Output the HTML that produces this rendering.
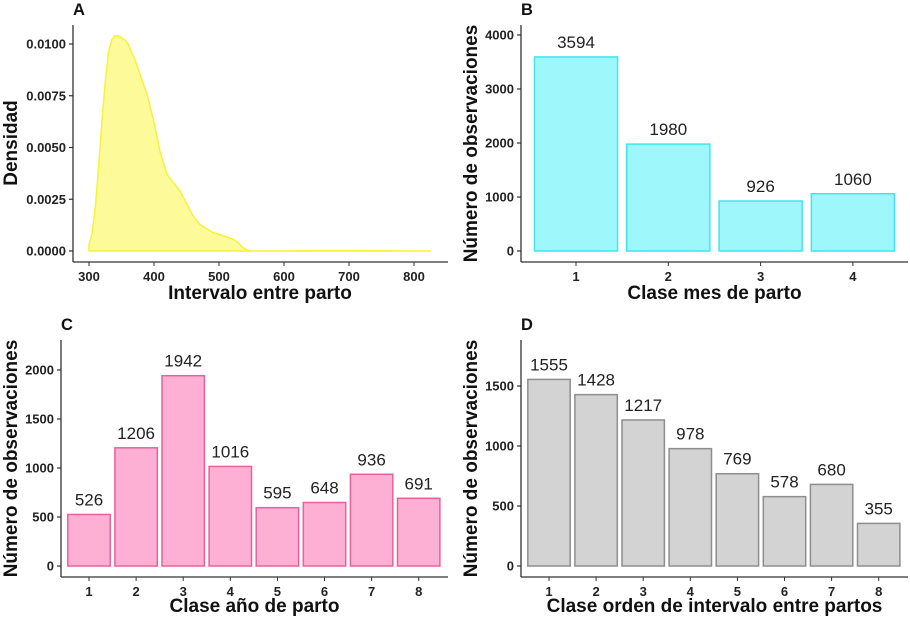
<!DOCTYPE html>
<html><head><meta charset="utf-8"><style>
html,body{margin:0;padding:0;background:#fff;}
svg{display:block;font-family:"Liberation Sans",sans-serif;}
.tick{font-size:13px;font-weight:bold;fill:#222;}
.ttl{font-size:19px;font-weight:bold;fill:#111;}
.val{font-size:17px;fill:#222;}
.pl{font-size:16.5px;font-weight:bold;fill:#111;}
</style></head><body>
<svg id="s" width="910" height="618"></svg>
<script>
const densX=[300,305,310,315,320,325,330,335,340,345,350,355,360,370,380,390,400,410,420,430,440,450,460,470,480,490,500,510,520,530,535,540,545,550,600,650,700,750,800,825];
const densY=[0.0003,0.0009,0.0022,0.0042,0.0063,0.0082,0.0096,0.0102,0.0104,0.0104,0.0103,0.0102,0.0100,0.0093,0.0084,0.0075,0.0062,0.0047,0.0037,0.0033,0.0029,0.0023,0.0017,0.0013,0.0011,0.0009,0.0008,0.0007,0.0006,0.0004,0.0002,0.0001,0.00002,0,0,0.00002,0.00002,0.00001,0,0];
const aXTicks=[300,400,500,600,700,800];
const aYTicks=[0,0.0025,0.005,0.0075,0.01];
const aYLabels=["0.0000","0.0025","0.0050","0.0075","0.0100"];
const bCats=["1","2","3","4"];
const bVals=[3594,1980,926,1060];
const bYTicks=[0,1000,2000,3000,4000];
const cCats=["1","2","3","4","5","6","7","8"];
const cVals=[526,1206,1942,1016,595,648,936,691];
const cYTicks=[0,500,1000,1500,2000];
const dCats=["1","2","3","4","5","6","7","8"];
const dVals=[1555,1428,1217,978,769,578,680,355];
const dYTicks=[0,500,1000,1500];

const NS="http://www.w3.org/2000/svg";
const svg=document.getElementById('s');
function mk(tag,attrs,parent,text){const e=document.createElementNS(NS,tag);for(const k in attrs)e.setAttribute(k,attrs[k]);if(text!==undefined)e.textContent=text;(parent||svg).appendChild(e);return e;}
function axes(g,x0,x1,y0,yb,yTicks,yLab,yfn){
  const ya=mk('line',{x1:x0,y1:y0,x2:x0,y2:yb,stroke:'#333','stroke-width':1.3},g);
  
  const xa=mk('line',{x1:x0,y1:yb,x2:x1,y2:yb,stroke:'#333','stroke-width':1.3},g);
  
  yTicks.forEach((v,i)=>{const y=yfn(v);
    mk('line',{x1:x0-4,y1:y,x2:x0,y2:y,stroke:'#333','stroke-width':1.2},g);
    const t=mk('text',{x:x0-7,y:y+4.5,'text-anchor':'end',class:'tick'},g,yLab[i]);
    });
}
function panel(letter,lx,ly){const t=mk('text',{x:lx,y:ly,class:'pl'},svg,letter);}
function ytitle(g,x,y,txt){const t=mk('text',{x:0,y:0,transform:`translate(${x},${y}) rotate(-90)`,'text-anchor':'middle',class:'ttl'},g,txt);}
function xtitle(g,x,y,txt){const t=mk('text',{x:x,y:y,'text-anchor':'middle',class:'ttl'},g,txt);}

// Panel A
{const g=mk('g',{});
 const xs=v=>89+(v-300)*0.65, ys=v=>251-v*20700;
 axes(g,73,448,25,262,aYTicks,aYLabels,ys);
 aXTicks.forEach(v=>{const x=xs(v);mk('line',{x1:x,y1:262,x2:x,y2:266,stroke:'#333'},g);
   const t=mk('text',{x:x,y:281,'text-anchor':'middle',class:'tick'},g,String(v));});
 let d='M'+xs(densX[0])+','+ys(0);
 densX.forEach((v,i)=>{d+=' L'+xs(v).toFixed(1)+','+ys(densY[i]).toFixed(1);});
 d+=' L'+xs(densX[densX.length-1])+','+ys(0)+' Z';
 const p=mk('path',{d:d,fill:'#fdfa9a',stroke:'#f7f23a','stroke-width':1.5,'stroke-linejoin':'round'},g);
 
 ytitle(g,17,143,'Densidad');xtitle(g,260,299,'Intervalo entre parto');
 panel('A',73,15);}

function bars(name,cats,vals,yTicks,x0,x1,y0,yb,c1,sp,zeroY,scale,fill,stroke,ytxt,xtxt,ytx,xty,letter,lx,ly){
 const g=mk('g',{});
 const ys=v=>zeroY-v*scale, xc=i=>c1+i*sp, w=sp*0.9;
 axes(g,x0,x1,y0,yb,yTicks,yTicks.map(String),ys);
 cats.forEach((c,i)=>{const x=xc(i);
  const r=mk('rect',{x:x-w/2,y:ys(vals[i]),width:w,height:zeroY-ys(vals[i]),fill:fill,stroke:stroke,'stroke-width':1.5},g);
  
  const t=mk('text',{x:x,y:ys(vals[i])-9,'text-anchor':'middle',class:'val'},g,String(vals[i]));
  
  mk('line',{x1:x,y1:yb,x2:x,y2:yb+4,stroke:'#333'},g);
  const tl=mk('text',{x:x,y:yb+19,'text-anchor':'middle',class:'tick'},g,c);
  });
 ytitle(g,ytx,(y0+yb)/2,ytxt);xtitle(g,(x0+x1)/2,xty,xtxt);
 panel(letter,lx,ly);
}
bars('panel-b-bars',bCats,bVals,bYTicks,521,908,25,262,576,92.3,251,0.054,'#9ef8fb','#3fe6ec','Número de observaciones','Clase mes de parto',477,299,'B',521,15);
bars('panel-c-bars',cCats,cVals,cYTicks,61,448,340,577,89,47.1,566,0.098,'#fdb0d3','#e9609c','Número de observaciones','Clase año de parto',17,612,'C',61,330);
bars('panel-d-bars',dCats,dVals,dYTicks,521,908,340,577,549,47.1,566,0.12,'#d3d3d3','#8e8e8e','Número de observaciones','Clase orden de intervalo entre partos',477,612,'D',521,330);
</script>
</body></html>
